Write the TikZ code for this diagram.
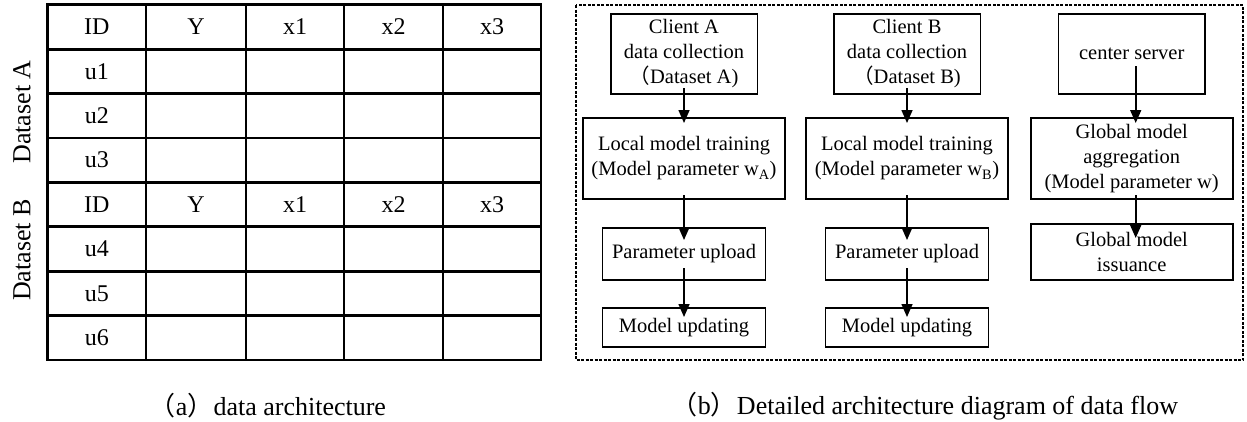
\documentclass[tikz,border=0pt]{standalone}
\usepackage{fontspec}
\setmainfont{Liberation Serif}
\newfontfamily\cjk{Noto Sans CJK SC}
\usetikzlibrary{arrows.meta}
% full-width parentheses
\newcommand\fwlp{{\cjk （}}
\newcommand\fwrp{{\cjk ）}}
\begin{document}
\begin{tikzpicture}[x=1pt,y=-1pt,
  every node/.style={inner sep=0pt, outer sep=0pt},
  flowbox/.style={draw, line width=1.6pt, align=center, font=\fontsize{20.5}{25}\selectfont},
  cell/.style={font=\fontsize{24}{28}\selectfont},
  side/.style={font=\fontsize{26}{30}\selectfont, rotate=90},
  caption/.style={font=\fontsize{26}{30}\selectfont},
  tabline/.style={line width=2.8pt, line cap=rect},
  frame/.style={line width=1.3pt, dash pattern=on 3pt off 1.5pt},
  arr/.style={line width=1.6pt, -{Triangle[length=13pt,width=11pt]}},
  ]
\useasboundingbox (0,0) rectangle (1247,421);
\fill[white] (0,0) rectangle (1247,421);

% ---------- (a) data table ----------
\foreach \x in {47.5,146,246,344,443,541}
  \draw[tabline] (\x,4.7) -- (\x,359.9);
\foreach \k in {0,...,8}
  \draw[tabline] (47.5,4.7+44.4*\k) -- (541,4.7+44.4*\k);

\foreach \t [count=\i from 0] in {ID,u1,u2,u3,ID,u4,u5,u6}
  \node[cell] (r\i) at (96.85,26.9+44.4*\i) {\t};
\foreach \t [count=\j] in {Y,x1,x2,x3}{
  \pgfmathsetmacro\cx{{0,196,295,393.5,492}[\j]}
  \node[cell] (hA\j) at (\cx,26.9) {\t};
  \node[cell] (hB\j) at (\cx,204.5) {\t};
}
\node[side] (dsA) at (22,112) {Dataset A};
\node[side] (dsB) at (22,250) {Dataset B};

\node[caption] (capA) at (268,406) {\fwlp a\fwrp data architecture};

% ---------- (b) data flow ----------
\draw[frame] (576,5) rectangle (1243,360);

\node[flowbox, minimum width=146.6pt, minimum height=80pt] (cA) at (684,54)
  {Client A\\data collection\\\fwlp Dataset A)};
\node[flowbox, minimum width=202pt, minimum height=81pt] (lA) at (684,158.5)
  {Local model training\\(Model parameter w\textsubscript{A})};
\node[flowbox, minimum width=163pt, minimum height=52pt] (pA) at (684,254)
  {Parameter upload};
\node[flowbox, minimum width=163pt, minimum height=39pt] (mA) at (684,327.5)
  {Model updating};

\node[flowbox, minimum width=146.6pt, minimum height=80pt] (cB) at (907,54)
  {Client B\\data collection\\\fwlp Dataset B)};
\node[flowbox, minimum width=202pt, minimum height=81pt] (lB) at (907,158.5)
  {Local model training\\(Model parameter w\textsubscript{B})};
\node[flowbox, minimum width=163pt, minimum height=52pt] (pB) at (907,254)
  {Parameter upload};
\node[flowbox, minimum width=163pt, minimum height=39pt] (mB) at (907,327.5)
  {Model updating};

\node[flowbox, minimum width=146.7pt, minimum height=80pt] (cs) at (1131.7,54)
  {center server};
\node[flowbox, minimum width=202pt, minimum height=81pt] (gma) at (1131.7,158.5)
  {Global model\\aggregation\\(Model parameter w)};
\node[flowbox, minimum width=202pt, minimum height=56pt] (gmi) at (1131.7,252)
  {Global model\\issuance};

\foreach \c in {A,B}{
  \draw[arr, shorten <=-6pt, shorten >=-5pt] (c\c.south) -- (l\c.north);
  \draw[arr, shorten <=-4pt, shorten >=-12pt] (l\c.south) -- (p\c.north);
  \draw[arr, shorten <=-12pt, shorten >=-9pt] (p\c.south) -- (m\c.north);
}
\draw[arr, shorten <=-28pt, shorten >=-5pt] ([xshift=4pt]cs.south) -- ([xshift=4pt]gma.north);
\draw[arr, shorten <=-4pt, shorten >=-14pt] ([xshift=4pt]gma.south) -- ([xshift=4pt]gmi.north);

\node[caption] (capB) at (925,406) {\fwlp b\fwrp Detailed architecture diagram of data flow};
\end{tikzpicture}
\end{document}
